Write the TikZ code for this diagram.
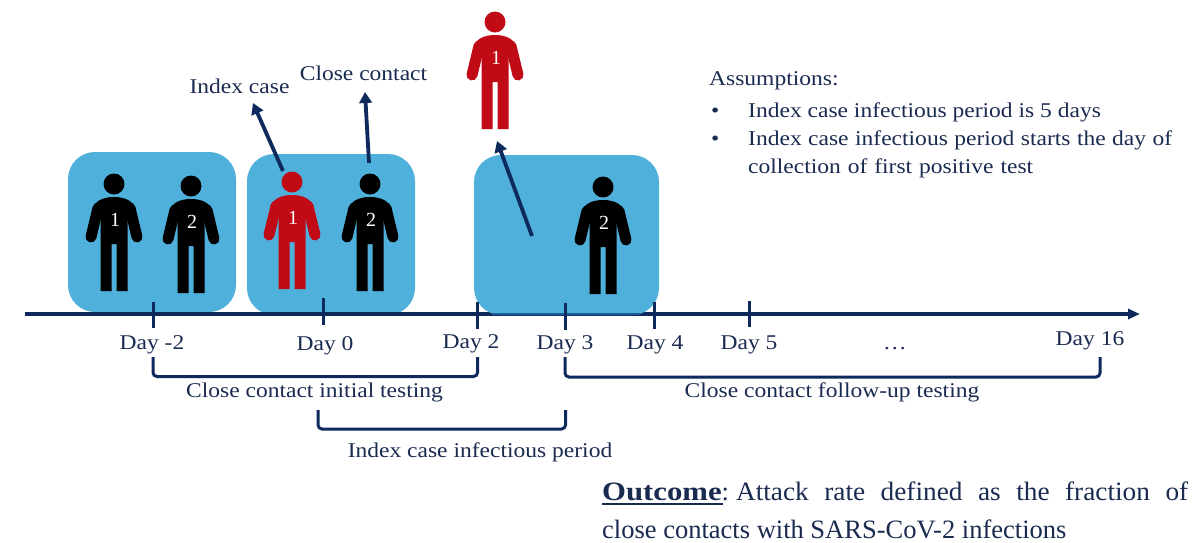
\documentclass[tikz,border=0pt]{standalone}
\usepackage{fontspec}
\setmainfont{Liberation Serif}
\newfontfamily\widefont[FakeStretch=1.12]{Liberation Serif}
\newfontfamily\slightfont[FakeStretch=1.03]{Liberation Serif}
\usetikzlibrary{arrows.meta}
\definecolor{navy}{HTML}{0E2A5C}
\definecolor{textnavy}{HTML}{1A2B50}
\definecolor{boxblue}{HTML}{4FB1DB}
\definecolor{stripblue}{HTML}{1B5C99}
\definecolor{redfig}{HTML}{C00B16}
\tikzset{
  panel/.style={fill=boxblue,draw=none,rounded corners=27pt,inner sep=0pt,outer sep=0pt},
  axisline/.style={draw=navy,line width=3.4pt},
  tick/.style={draw=navy,line width=3pt},
  bracket/.style={draw=navy,line width=3pt,rounded corners=4pt},
  pointer/.style={draw=navy,line width=3.8pt,-{Triangle[length=11pt,width=12.5pt]}},
  lab/.style={text=textnavy,inner sep=0pt,anchor=base,font=\widefont\fontsize{21}{25}\selectfont},
  labw/.style={lab,anchor=base west},
  bigt/.style={labw,font=\fontsize{26.5}{30}\selectfont},
  num/.style={text=white,inner sep=0pt,font=\fontsize{20}{22}\selectfont},
}
\newcommand{\figperson}[5]{%
  \begin{scope}[shift={(#1,#2)}]
    \fill[#3] (0,0) circle (10.5);
    \fill[#3] (-19,20) .. controls (-15,15) and (-8,13) .. (0,13) .. controls (8,13) and (15,15) .. (19,20)
      -- (13.5,34) -- (13.5,107) -- (2.5,107) -- (2.5,60) -- (-2.5,60) -- (-2.5,107) -- (-13.5,107) -- (-13.5,34) -- cycle;
    \draw[#3,line width=11pt,line cap=round] (-16,24) -- (-23,53);
    \draw[#3,line width=11pt,line cap=round] (16,24) -- (23,53);
    \node[num] (#5) at (1,36) {#4};
  \end{scope}}
\begin{document}
\begin{tikzpicture}[x=1pt,y=-1pt]
\useasboundingbox[fill=white] (0,0) rectangle (1200,542);
\coordinate (axL) at (25,314);
\coordinate (axR) at (1140,314);
\coordinate (stL) at (492,314);
\coordinate (stR) at (640,314);
% panels
\node[panel,minimum width=168pt,minimum height=160pt] (boxA) at (152,232) {};
\node[panel,minimum width=168pt,minimum height=161pt] (boxB) at (331,234.5) {};
\draw[axisline,-{Triangle[length=12pt,width=10pt]}] (axL) -- (axR);
\node[panel,minimum width=185pt,minimum height=160pt] (boxC) at (566.5,235) {};
\draw[draw=stripblue,line width=2.6pt] (stL) -- (stR);
% people
\figperson{114}{184}{black}{1}{n1}
\figperson{191}{186}{black}{2}{n2}
\figperson{292}{182}{redfig}{1}{n3}
\figperson{370}{184}{black}{2}{n4}
\figperson{495}{22}{redfig}{1}{n5}
\figperson{603}{187}{black}{2}{n6}
% ticks
\foreach \nm/\x/\a/\b in {a/153/302/328,b/323/298/325,c/477/302/329,d/565/303/330,e/654/302/329,f/749/301/327}{
  \coordinate (t\nm1) at (\x,\a);
  \coordinate (t\nm2) at (\x,\b);
  \draw[tick] (t\nm1) -- (t\nm2);
}
% day labels
\node[lab] (d1) at (152,349) {Day -2};
\node[lab] (d2) at (325,350) {Day 0};
\node[lab] (d3) at (471,348) {Day 2};
\node[lab] (d4) at (565,349) {Day 3};
\node[lab] (d5) at (655,349) {Day 4};
\node[lab] (d6) at (749,349) {Day 5};
\node[lab] (d7) at (895,349) {…};
\node[lab] (d8) at (1090,345) {Day 16};
% brackets
\coordinate (b1a) at (153,357); \coordinate (b1b) at (477.5,357);
\coordinate (b2a) at (318,410); \coordinate (b2b) at (565.5,410);
\coordinate (b3a) at (565,357); \coordinate (b3b) at (1100,357);
\draw[bracket] (b1a) -- ++(0,19.5) -| (b1b);
\draw[bracket] (b2a) -- ++(0,19) -| (b2b);
\draw[bracket] (b3a) -- ++(0,20) -| (b3b);
\node[lab] (l1) at (314.5,397) {Close contact initial testing};
\node[lab] (l2) at (480,457) {Index case infectious period};
\node[lab] (l3) at (832,397) {Close contact follow-up testing};
% pointers
\node[lab] (ic) at (239.5,93) {Index case};
\node[lab] (cc) at (363.5,80) {Close contact};
\coordinate (p1) at (283,171); \coordinate (p1e) at (253,103);
\coordinate (p2) at (369,163); \coordinate (p2e) at (365,92);
\coordinate (p3) at (532,236); \coordinate (p3e) at (497,141);
\draw[pointer] (p1) -- (p1e);
\draw[pointer] (p2) -- (p2e);
\draw[pointer] (p3) -- (p3e);
% assumptions
\node[labw] (as) at (709,85) {Assumptions:};
\node[labw] (b1) at (711,117) {•};
\node[labw] (a1) at (748,117) {Index case infectious period is 5 days};
\node[labw] (b2) at (711,145) {•};
\node[labw] (a2) at (748,145) {\hbox to 424pt{Index case infectious period starts the day of}};
\node[labw] (a3) at (748,173) {\hbox to 285pt{collection of first positive test}};
% outcome
\node[bigt] (o1) at (602,500) {\hbox to 586pt{\textbf{\scalebox{1.16}[1]{Outcome}}:\kern7pt\slightfont Attack rate defined as the fraction of}};
\coordinate (uL) at (602,504); \coordinate (uR) at (723,504);
\draw[textnavy,line width=1.6pt] (uL) -- (uR);
\node[bigt] (o2) at (602,538) {close contacts with SARS-CoV-2 infections};
\end{tikzpicture}
\end{document}
